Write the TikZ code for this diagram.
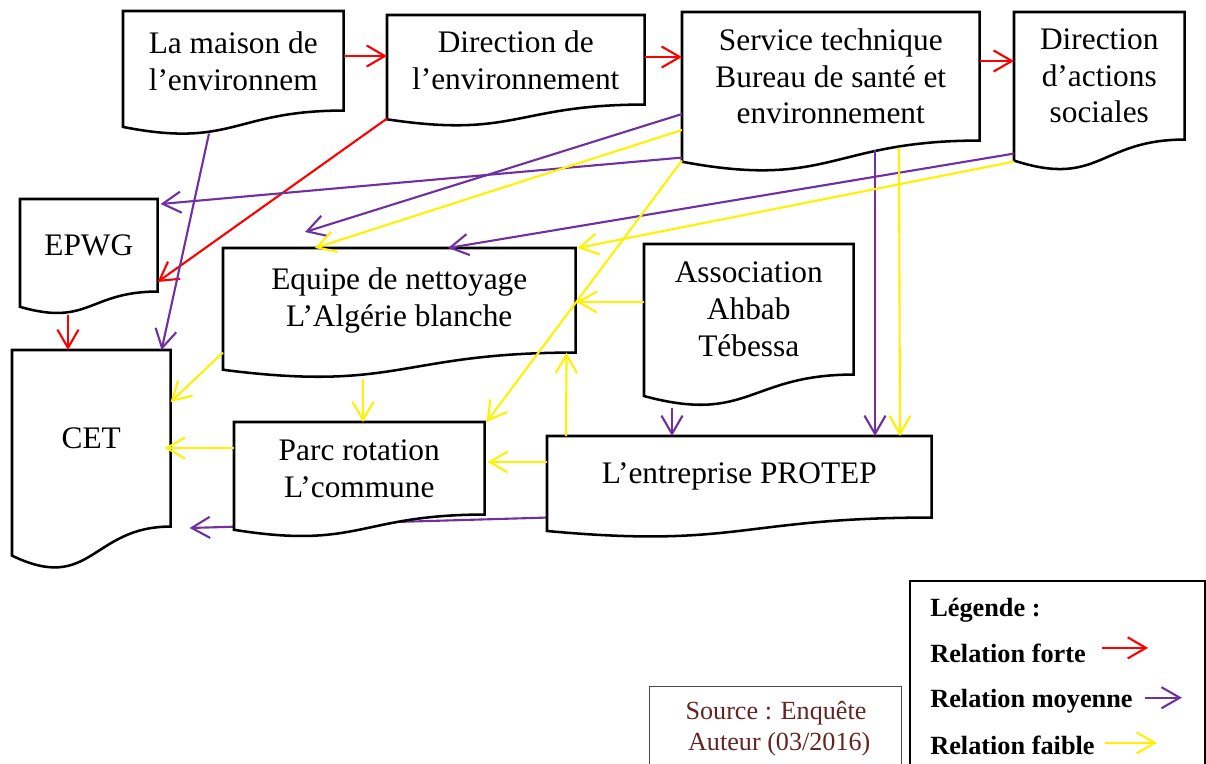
\documentclass[tikz,border=0pt]{standalone}
\usepackage{fontspec}
\setmainfont{Liberation Serif}
\usetikzlibrary{arrows.meta,calc,backgrounds}
\definecolor{moy}{RGB}{112,48,160}
\definecolor{srcred}{RGB}{99,37,35}

\tikzset{
   box/.style={anchor=north west, inner sep=0pt, align=center, font=\fontsize{22.3}{26.3}\selectfont},
   sz/.style 2 args={minimum width=#1*0.025cm, minimum height=#2*0.025cm},
   link/.style={line width=1.5pt, -{Straight Barb[length=13pt,width=15pt]}},
   forte/.style={link, draw=red},
   moyenne/.style={link, draw=moy},
   faible/.style={link, draw=yellow},
   leg/.style={anchor=base west, inner sep=0pt, font=\bfseries\fontsize{18.7}{22}\selectfont}
}

% document shape drawn round a named node
\newcommand\docframe[1]{%
  \filldraw[draw=black, fill=white, line width=1.8pt] (#1.north west) -- (#1.north east) -- (#1.south east)
    .. controls (#1.south) and ($(#1.north)!1.3815!(#1.south)$)
    .. ($(#1.north west)!1.1646!(#1.south west)$) -- cycle;}

\begin{document}
\begin{tikzpicture}[x=0.025cm, y=-0.025cm]
   \useasboundingbox (0,0) rectangle (1206,764);
   \clip (0,0) rectangle (1206,764);

   \node[box, sz={220}{99}] (maison) at (123,11) {La maison de\\l’environnem};
   \node[box, sz={257}{89}] (direnv) at (387,15) {Direction de\\l’environnement};
   \node[box, sz={297}{128}] (svc) at (682,12) {Service technique\\Bureau de santé et\\environnement};
   \node[box, sz={170}{127}] (das) at (1014,12) {Direction\\d’actions\\sociales};
   \node[box, sz={137}{92}] (epwg) at (20,199) {EPWG};
   \node[box, sz={352}{104}] (equipe) at (223,248) {Equipe de nettoyage\\L’Algérie blanche};
   \node[box, sz={209}{130}] (assoc) at (644,244) {Association\\Ahbab\\Tébessa};
   \node[box, sz={158}{176}] (cet) at (12,350) {CET};
   \node[box, sz={250}{92}] (parc) at (234,422) {Parc rotation\\L’commune};
   \node[box, sz={384}{81}] (protep) at (547,436) {L’entreprise PROTEP};

   \begin{pgfonlayer}{background}
    \draw[moyenne] (protep.south west) -- ($(cet.north east)+(19,178)$);
    \foreach \n in {maison,direnv,svc,das,epwg,equipe,assoc,cet,parc,protep}
      \docframe{\n};
   \end{pgfonlayer}

   % relation forte
   \draw[forte] ($(maison.north east)+(0,45)$) -- ($(direnv.north west)+(0,41)$);
   \draw[forte] ($(direnv.north east)+(0,42)$) -- ($(svc.north west)+(0,45)$);
   \draw[forte] ($(svc.north east)+(0,49)$) -- ($(das.north west)+(0,49)$);
   \draw[forte] ($(direnv.south west)+(0,14)$) -- ($(epwg.north east)+(0,83)$);
   \draw[forte] ($(epwg.south west)+(48,23)$) -- ($(cet.north west)+(56,0)$);
   % relation moyenne
   \draw[moyenne] ($(maison.south west)+(86,23)$) -- ($(cet.north east)+(-9,0)$);
   \draw[moyenne] ($(svc.south west)+(0,17)$) -- ($(epwg.north east)+(3,5)$);
   \draw[moyenne] ($(svc.north west)+(0,102)$) -- ($(equipe.north west)+(82,-16)$);
   \draw[moyenne] ($(das.south west)+(0,14)$) -- ($(equipe.north west)+(225,0)$);
   \draw[moyenne] ($(svc.south west)+(193,9)$) -- ($(protep.north west)+(328,0)$);
   \draw[moyenne] ($(assoc.south west)+(28,33)$) -- ($(protep.north west)+(125,0)$);
   % relation faible
   \draw[faible] ($(svc.north west)+(0,118)$) -- ($(equipe.north west)+(92,0)$);
   \draw[faible] ($(das.south west)+(0,22)$) -- ($(equipe.north east)+(2,0)$);
   \draw[faible] ($(svc.south west)+(217,7)$) -- ($(protep.north west)+(353,0)$);
   \draw[faible] ($(svc.south west)+(0,20)$) -- ($(parc.north east)+(2,0)$);
   \draw[faible] ($(assoc.north west)+(0,58)$) -- ($(equipe.north east)+(1,54)$);
   \draw[faible] ($(protep.north west)+(19,0)$) -- ($(equipe.south east)+(-9,0)$);
   \draw[faible] ($(equipe.south west)+(140,26)$) -- ($(parc.north west)+(129,0)$);
   \draw[faible] (equipe.south west) -- ($(cet.north east)+(0,52)$);
   \draw[faible] ($(parc.north west)+(0,26)$) -- ($(cet.north east)+(-6,98)$);
   \draw[faible] ($(protep.north west)+(0,26)$) -- ($(parc.north east)+(3,40)$);

   % source
   \draw[black!70, line width=0.6pt] (649,686) rectangle (901,780);
   \node[align=center, inner sep=0pt, text=srcred, font=\fontsize{18.6}{22}\selectfont] (source) at (776,729)
     {Source : Enquête\\\ Auteur (03/2016)};

   % legende
   \draw[line width=0.8pt] (910,581) rectangle (1205,780);
   \node[leg] (lgtitle) at (930,616) {Légende :};
   \node[leg] (lgforte) at (930,662) {Relation forte};
   \node[leg] (lgmoy) at (930,707) {Relation moyenne};
   \node[leg] (lgfaible) at (930,754) {Relation faible};
   \draw[forte] ($(lgforte.east)+(16,-5)$) -- ++(46,0);
   \draw[moyenne] ($(lgmoy.east)+(12,-3)$) -- ++(37,0);
   \draw[faible] ($(lgfaible.east)+(10,-2)$) -- ++(52,0);
\end{tikzpicture}
\end{document}
